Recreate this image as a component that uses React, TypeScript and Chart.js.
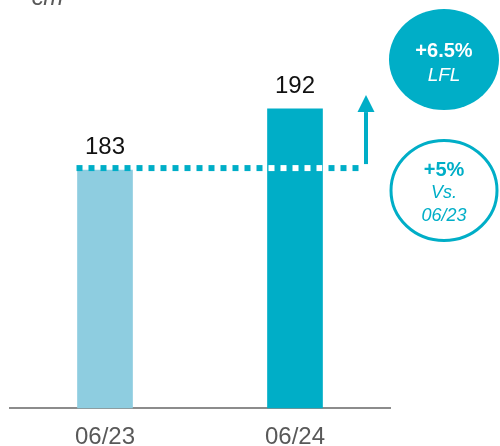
import React, { useEffect, useRef } from "react";
import { Chart, registerables } from "chart.js";

Chart.register(...registerables);

const categories = ["06/23", "06/24"];
const values = [183, 192];
const barColors = ["#8ecde0", "#00aec7"];
const unitLabel = "€m";
const lflBadge = ["+6.5%", "LFL"];
const vsBadge = ["+5%", "Vs.", "06/23"];
const yMin = 148;
const yMax = 208;

const ACCENT = "#00aec7";
const FONT = "'Liberation Sans', Arial, sans-serif";

const overlayPlugin = {
  id: "overlay",
  afterDatasetsDraw(chart: any) {
    const ctx = chart.ctx;
    const area = chart.chartArea;
    const y = chart.scales.y;
    const meta = chart.getDatasetMeta(0);
    const bars = meta.data;

    ctx.save();
    // value labels
    ctx.font = `24px ${FONT}`;
    ctx.fillStyle = "#111111";
    ctx.textAlign = "center";
    ctx.textBaseline = "alphabetic";
    bars.forEach((b: any, i: number) => {
      ctx.fillText(String(values[i]), b.x, b.y - 16);
    });

    // dotted reference line at first value
    const lineY = y.getPixelForValue(values[0]) - 2;
    const b0 = bars[0];
    const b1 = bars[1];
    const startX = b0.x - b0.width / 2 - 1;
    const arrowX = area.right - 24;
    const endX = arrowX - 6;
    ctx.lineWidth = 6;
    ctx.setLineDash([6, 6]);
    ctx.lineCap = "butt";
    ctx.strokeStyle = ACCENT;
    ctx.beginPath();
    ctx.moveTo(startX, lineY);
    ctx.lineTo(endX, lineY);
    ctx.stroke();
    // white over the second bar
    ctx.save();
    ctx.beginPath();
    ctx.rect(b1.x - b1.width / 2, b1.y, b1.width, b1.base - b1.y);
    ctx.clip();
    ctx.strokeStyle = "#ffffff";
    ctx.beginPath();
    ctx.moveTo(startX, lineY);
    ctx.lineTo(endX, lineY);
    ctx.stroke();
    ctx.restore();
    ctx.setLineDash([]);

    // arrow
    const arrowBottom = lineY - 4;
    const headBase = lineY - 56;
    const tip = lineY - 73;
    ctx.fillStyle = ACCENT;
    ctx.fillRect(arrowX - 2, headBase, 4, arrowBottom - headBase);
    ctx.beginPath();
    ctx.moveTo(arrowX - 8.5, headBase);
    ctx.lineTo(arrowX + 8.5, headBase);
    ctx.lineTo(arrowX, tip);
    ctx.closePath();
    ctx.fill();

    // unit label
    ctx.font = `italic 24px ${FONT}`;
    ctx.fillStyle = "#595959";
    ctx.textAlign = "left";
    ctx.fillText(unitLabel, area.left + 20, 5);

    // filled badge
    const cx = area.right + 54;
    ctx.fillStyle = ACCENT;
    ctx.beginPath();
    ctx.ellipse(cx, 59.5, 55, 50.5, 0, 0, Math.PI * 2);
    ctx.fill();
    ctx.fillStyle = "#ffffff";
    ctx.textAlign = "center";
    ctx.font = `bold 20px ${FONT}`;
    ctx.fillText(lflBadge[0], cx, 57);
    ctx.font = `italic 19px ${FONT}`;
    ctx.fillText(lflBadge[1], cx, 81);

    // outlined badge
    ctx.strokeStyle = ACCENT;
    ctx.lineWidth = 3;
    ctx.beginPath();
    ctx.ellipse(cx, 190.5, 53, 50, 0, 0, Math.PI * 2);
    ctx.stroke();
    ctx.fillStyle = ACCENT;
    ctx.font = `bold 20px ${FONT}`;
    ctx.fillText(vsBadge[0], cx, 176);
    ctx.font = `italic 18px ${FONT}`;
    ctx.fillText(vsBadge[1], cx, 198);
    ctx.fillText(vsBadge[2], cx, 221);
    ctx.restore();
  },
};

export default function App() {
  const ref = useRef<HTMLCanvasElement | null>(null);
  useEffect(() => {
    document.body.style.margin = "0";
    const canvas = ref.current;
    if (!canvas) return;
    const chart = new Chart(canvas, {
      type: "bar",
      data: {
        labels: categories,
        datasets: [
          {
            data: values,
            backgroundColor: barColors,
            barThickness: 55,
            borderWidth: 0,
          },
        ],
      },
      options: {
        animation: false,
        responsive: false,
        devicePixelRatio: 1,
        layout: { padding: { left: 10, right: 110, top: 0, bottom: -21 } },
        plugins: {
          legend: { display: false },
          tooltip: { enabled: false },
          title: { display: false },
        },
        scales: {
          y: { display: false, min: yMin, max: yMax },
          x: {
            grid: { display: false, drawTicks: false },
            border: { display: true, color: "#8c8c8c", width: 2 },
            ticks: {
              color: "#595959",
              padding: 15,
              font: { family: FONT, size: 24 },
            },
          },
        },
      },
      plugins: [overlayPlugin],
    });
    return () => chart.destroy();
  }, []);
  return (
    <div style={{ width: 500, height: 446, position: "relative" }}>
      <canvas ref={ref} width={500} height={446} style={{ display: "block" }} />
    </div>
  );
}
